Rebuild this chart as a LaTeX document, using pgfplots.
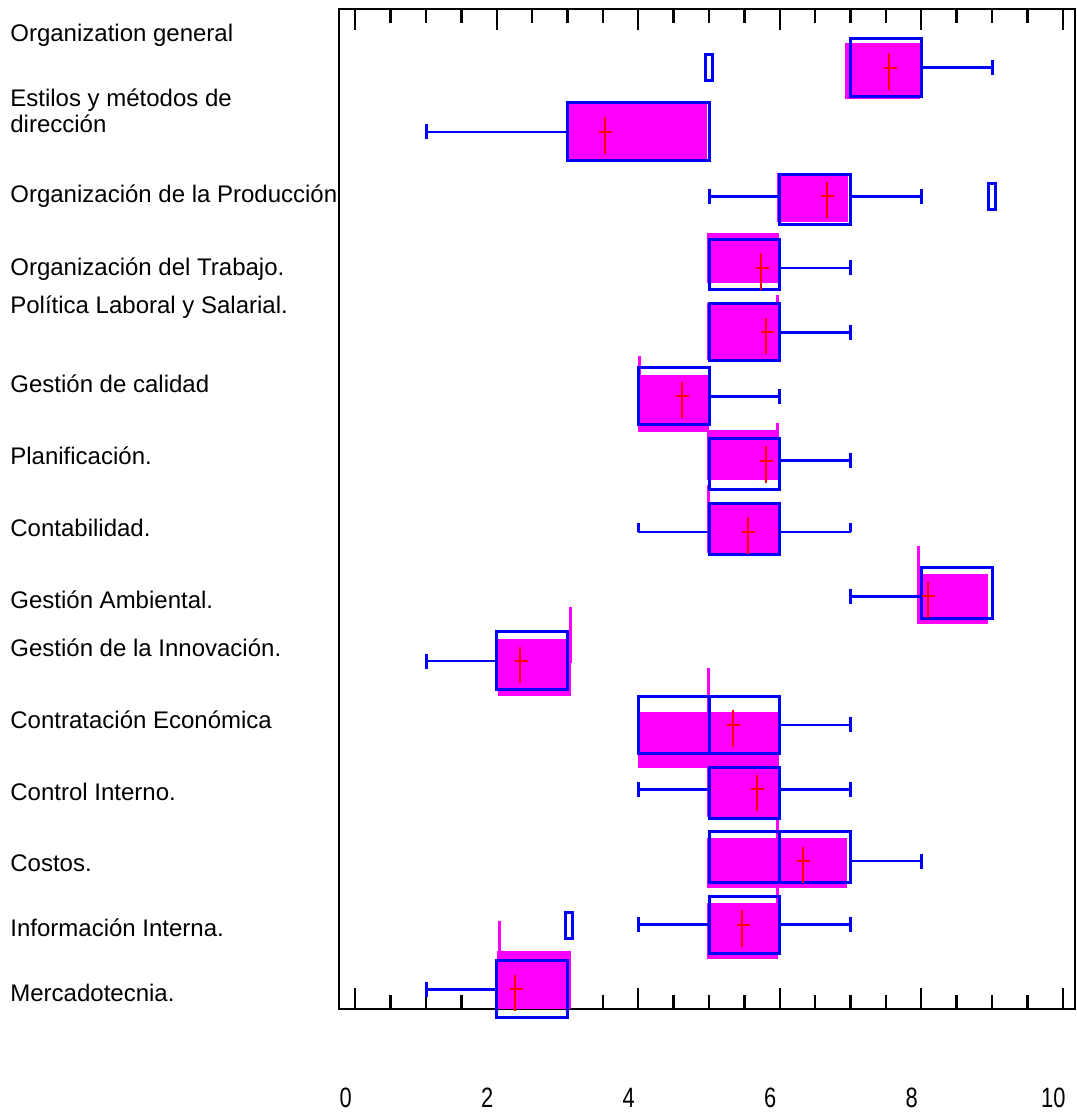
\documentclass[border=0pt]{standalone}
\usepackage{fontspec}
\setmainfont{Liberation Sans}
\newfontfamily\narrowfont[FakeStretch=0.78]{Liberation Sans}
\usepackage{pgfplots}
\pgfplotsset{compat=1.18}
\definecolor{mag}{RGB}{255,0,255}
\definecolor{bl}{RGB}{0,0,255}
\definecolor{rd}{RGB}{255,0,0}

\pgfdeclareplotmark{meancross}{%
  \pgfpathmoveto{\pgfqpoint{0pt}{-11pt}}\pgfpathlineto{\pgfqpoint{0pt}{7.25pt}}%
  \pgfpathmoveto{\pgfqpoint{-2.75pt}{0pt}}\pgfpathlineto{\pgfqpoint{3.75pt}{0pt}}%
  \pgfusepathqstroke}
\pgfdeclareplotmark{outl}{%
  \pgfpathrectangle{\pgfqpoint{-1.8pt}{-6.5pt}}{\pgfqpoint{3.6pt}{13pt}}\pgfusepathqstroke}
\pgfdeclareplotmark{ucap}{%
  \pgfpathmoveto{\pgfqpoint{0pt}{0pt}}\pgfpathlineto{\pgfqpoint{0pt}{4.6pt}}\pgfusepathqstroke}

\newcommand{\magbox}[4]{\addplot[fill=mag, draw=none] coordinates {(#1,#3) (#2,#3) (#2,#4) (#1,#4)} --cycle;}
\newcommand{\bluebox}[4]{\addplot[bl, line width=1.5pt] coordinates {(#1,#3) (#2,#3) (#2,#4) (#1,#4)} --cycle;}
\newcommand{\magline}[3]{\addplot[mag, line width=1.5pt] coordinates {(#1,#2) (#1,#3)};}
\newcommand{\medline}[3]{\addplot[bl, line width=1.5pt] coordinates {(#1,#2) (#1,#3)};}
\newcommand{\whisk}[3]{\addplot[bl, line width=1.3pt, mark=|, mark size=3.75pt, mark options={line width=1.5pt}] coordinates {(#1,#3) (#2,#3)};}
\newcommand{\whiskU}[3]{\addplot[bl, line width=1.3pt, mark=ucap, mark options={line width=1.5pt}] coordinates {(#1,#3) (#2,#3)};}

\begin{document}
\begin{tikzpicture}
\useasboundingbox (-169.5pt,-51.5pt) rectangle (368.5pt,504.5pt);
\begin{axis}[
  at={(0,0)}, anchor=south west,
  scale only axis, width=368pt, height=500pt,
  xmin=-0.230, xmax=10.173, ymin=0.701, ymax=15.891,
  clip=false,
  axis line style={line width=1.1pt},
  xtick={0,2,4,6,8,10}, xticklabels={0,2,4,6,8,10},
  minor x tick num=3,
  xtick pos=both,
  tick align=inside,
  major tick length=10.5pt, minor tick length=7pt,
  every tick/.append style={black, line width=1.15pt},
  every minor tick/.append style={black, line width=1.15pt},
  xticklabel style={anchor=center, yshift=-44.5pt, xshift=-4.75pt, font=\narrowfont\fontsize{14}{16}\selectfont},
  ytick={0.944,1.931,2.919,3.997,5.091,6.185,6.914,8.007,9.101,10.195,11.395,11.980,13.086,14.144,14.539,15.522},
  yticklabels={Mercadotecnia., Información Interna., Costos., Control Interno., Contratación Económica, Gestión de la Innovación., Gestión Ambiental., Contabilidad., Planificación., Gestión de calidad, Política Laboral y Salarial., Organización del Trabajo., Organización de la Producción, dirección, Estilos y métodos de, Organization general},
  ytick style={draw=none},
  yticklabel style={anchor=west, xshift=-164.5pt, inner sep=0pt, text height=8.6pt, text depth=0pt, font=\fontsize{12}{14}\selectfont},
]
% magenta boxes
\magbox{6.926}{7.982}{14.524}{15.379}
\magbox{3.007}{4.965}{13.572}{14.463}
\magbox{5.957}{6.965}{12.660}{13.405}
\magbox{4.976}{5.989}{11.725}{12.484}
\magbox{4.976}{5.980}{10.559}{11.430}
\magbox{4.001}{5.004}{9.470}{10.332}
\magbox{4.976}{5.985}{8.737}{9.496}
\magbox{4.976}{6.004}{7.623}{8.398}
\magbox{7.946}{8.948}{6.544}{7.309}
\magbox{2.016}{3.049}{5.460}{6.321}
\magbox{4.001}{5.985}{4.357}{5.217}
\magbox{4.976}{5.994}{3.622}{4.357}
\magbox{4.976}{6.955}{2.543}{3.303}
\magbox{4.976}{5.980}{1.456}{2.306}
\magbox{2.008}{3.049}{0.701}{1.582}
% magenta lines
\magline{5.965}{11.551}{11.430}
\magline{4.015}{10.620}{10.332}
\magline{5.965}{9.598}{9.496}
\magline{4.990}{8.661}{8.398}
\magline{7.957}{7.734}{7.309}
\magline{3.045}{6.803}{5.952}
\magline{4.990}{5.876}{5.217}
\magline{5.971}{3.598}{3.303}
\magline{5.965}{2.549}{2.306}
\magline{2.032}{2.042}{1.582}
% blue boxes
\bluebox{7}{8}{14.559}{15.436}
\bluebox{3}{5}{13.587}{14.468}
\bluebox{6}{7}{12.610}{13.370}
\bluebox{5}{6}{11.633}{12.397}
\bluebox{5}{6}{10.544}{11.421}
\bluebox{4}{5}{9.572}{10.442}
\bluebox{5}{6}{8.585}{9.364}
\bluebox{5}{6}{7.612}{8.383}
\bluebox{8}{9}{6.636}{7.404}
\bluebox{2}{3}{5.557}{6.432}
\bluebox{4}{6}{4.585}{5.455}
\bluebox{5}{6}{3.598}{4.366}
\bluebox{5}{7}{2.619}{3.394}
\bluebox{5}{6}{1.547}{2.417}
\bluebox{2}{3}{0.569}{1.434}
% medians
\medline{5}{4.585}{5.455}
\medline{6}{2.619}{3.394}
% whiskers
\whisk{8}{9}{15.000}
\whisk{3}{1}{14.023}
\whisk{6}{5}{13.046}
\whisk{7}{8}{13.046}
\whisk{6}{7}{11.957}
\whisk{6}{7}{10.980}
\whisk{5}{6}{10.008}
\whisk{6}{7}{9.030}
\whiskU{5}{4}{7.947}
\whiskU{6}{7}{7.947}
\whisk{8}{7}{6.970}
\whisk{2}{1}{5.987}
\whisk{6}{7}{5.015}
\whisk{5}{4}{4.038}
\whisk{6}{7}{4.038}
\whisk{7}{8}{2.949}
\whisk{5}{4}{1.981}
\whisk{6}{7}{1.981}
\whisk{2}{1}{1.000}
% outliers
\addplot[only marks, mark=outl, bl, line width=1.35pt] coordinates {(5.0,15.0) (9.0,13.046) (3.024,1.972)};
% means
\addplot[only marks, mark=meancross, rd, line width=1pt] coordinates {
(7.548,15.000) (3.529,14.023) (6.664,13.046) (5.735,11.957) (5.806,10.980)
(4.614,10.008) (5.801,9.030) (5.547,7.947) (8.093,6.970) (2.330,5.987)
(5.335,5.015) (5.674,4.038) (6.324,2.949) (5.471,1.981) (2.258,1.000)};
\end{axis}
\end{tikzpicture}
\end{document}
